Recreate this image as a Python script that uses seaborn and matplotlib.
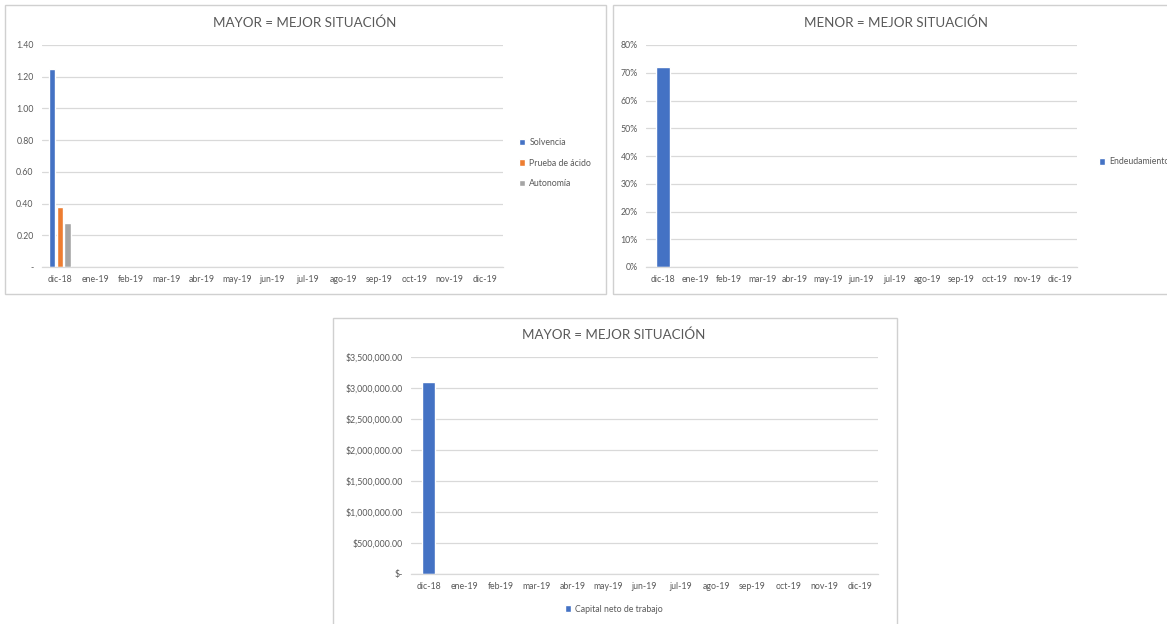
import matplotlib
matplotlib.use("Agg")
import matplotlib.pyplot as plt
from matplotlib.patches import Rectangle
from matplotlib.ticker import FixedLocator, FuncFormatter
import numpy as np
import pandas as pd
import seaborn as sns

# ---- data ----
meses = ["dic-18", "ene-19", "feb-19", "mar-19", "abr-19", "may-19", "jun-19",
         "jul-19", "ago-19", "sep-19", "oct-19", "nov-19", "dic-19"]

solvencia = [1.25] + [np.nan] * 12
prueba_acido = [0.38] + [np.nan] * 12
autonomia = [0.28] + [np.nan] * 12
endeudamiento = [0.72] + [np.nan] * 12
capital_neto = [3090000.0] + [np.nan] * 12

series_mayor = ["Solvencia", "Prueba de ácido", "Autonomía"]
titulo_mayor = "MAYOR = MEJOR SITUACIÓN"
titulo_menor = "MENOR = MEJOR SITUACIÓN"

AZUL = "#4472C4"
NARANJA = "#ED7D31"
GRIS = "#A5A5A5"
TXT = "#595959"
GRID = "#D9D9D9"

sns.set_theme(style="white")
plt.rcParams["font.family"] = ["Lato", "DejaVu Sans"]

W, H = 1167, 624
fig = plt.figure(figsize=(W / 100, H / 100), dpi=100)
fig.patch.set_facecolor("white")


def px_axes(x0, y0, x1, y1):
    return fig.add_axes([x0 / W, 1 - y1 / H, (x1 - x0) / W, (y1 - y0) / H])


def px_box(x0, y0, x1, y1):
    fig.add_artist(Rectangle((x0 / W, 1 - y1 / H), (x1 - x0) / W, (y1 - y0) / H,
                             transform=fig.transFigure, fill=False,
                             edgecolor="#D0D0D0", linewidth=1.0))


def px_title(x, y, text):
    fig.text(x / W, 1 - y / H, text, ha="center", va="center",
             fontsize=9.6, color=TXT)


def style(ax, ticks, fmt):
    ax.set_ylim(ticks[0], ticks[-1])
    ax.yaxis.set_major_locator(FixedLocator(ticks))
    ax.yaxis.set_major_formatter(FuncFormatter(fmt))
    ax.grid(axis="y", color=GRID, linewidth=0.9)
    ax.set_axisbelow(True)
    for s in ["top", "right", "left"]:
        ax.spines[s].set_visible(False)
    ax.spines["bottom"].set_color(GRID)
    ax.spines["bottom"].set_linewidth(0.9)
    ax.tick_params(axis="both", length=0, labelsize=6.3, colors=TXT, pad=6)
    ax.set_xlabel("")
    ax.set_ylabel("")
    ax.set_xlim(-0.5, len(meses) - 0.5)


legend_kw = dict(frameon=False, fontsize=6.3, labelcolor=TXT, handlelength=0.75,
                 handleheight=0.75, handletextpad=0.45)

# ---- panel 1: solvencia / prueba de ácido / autonomía ----
px_box(5, 5, 606, 294)
ax1 = px_axes(42, 45, 503, 267)
df1 = pd.DataFrame({
    "mes": meses * 3,
    "serie": sum([[s] * len(meses) for s in series_mayor], []),
    "valor": solvencia + prueba_acido + autonomia,
})
sns.barplot(data=df1, x="mes", y="valor", hue="serie", order=meses,
            hue_order=series_mayor, palette=[AZUL, NARANJA, GRIS],
            width=0.66, gap=0.22, saturation=1, errorbar=None, ax=ax1)
style(ax1, [0, 0.2, 0.4, 0.6, 0.8, 1.0, 1.2, 1.4],
      lambda v, p: "-" if abs(v) < 1e-9 else f"{v:.2f}")
px_title(305, 23, titulo_mayor)
h, l = ax1.get_legend_handles_labels()
ax1.get_legend().remove()
fig.legend(h, l, loc="center left", bbox_to_anchor=(511 / W, 1 - 163 / H),
           labelspacing=1.3, **legend_kw)

# ---- panel 2: endeudamiento ----
px_box(613, 5, 1172, 294)
ax2 = px_axes(646, 45, 1077, 267)
df2 = pd.DataFrame({"mes": meses, "serie": "Endeudamiento", "valor": endeudamiento})
sns.barplot(data=df2, x="mes", y="valor", hue="serie", order=meses,
            palette=[AZUL], width=0.42, saturation=1, errorbar=None, ax=ax2)
style(ax2, [0, 0.1, 0.2, 0.3, 0.4, 0.5, 0.6, 0.7, 0.8],
      lambda v, p: f"{v * 100:.0f}%")
px_title(896, 23, titulo_menor)
h, l = ax2.get_legend_handles_labels()
ax2.get_legend().remove()
fig.legend(h, l, loc="center left", bbox_to_anchor=(1091 / W, 1 - 162 / H),
           **legend_kw)

# ---- panel 3: capital neto de trabajo ----
px_box(333, 318, 897, 630)
ax3 = px_axes(411, 357, 878, 574)
df3 = pd.DataFrame({"mes": meses, "serie": "Capital neto de trabajo", "valor": capital_neto})
sns.barplot(data=df3, x="mes", y="valor", hue="serie", order=meses,
            palette=[AZUL], width=0.36, saturation=1, errorbar=None, ax=ax3)
style(ax3, [0, 500000, 1000000, 1500000, 2000000, 2500000, 3000000, 3500000],
      lambda v, p: "$-" if abs(v) < 1e-9 else f"${v:,.2f}")
px_title(614, 335, titulo_mayor)
h, l = ax3.get_legend_handles_labels()
ax3.get_legend().remove()
fig.legend(h, l, loc="center", bbox_to_anchor=(614 / W, 1 - 609 / H),
           **legend_kw)

fig.savefig("out.png", dpi=100, facecolor="white")
